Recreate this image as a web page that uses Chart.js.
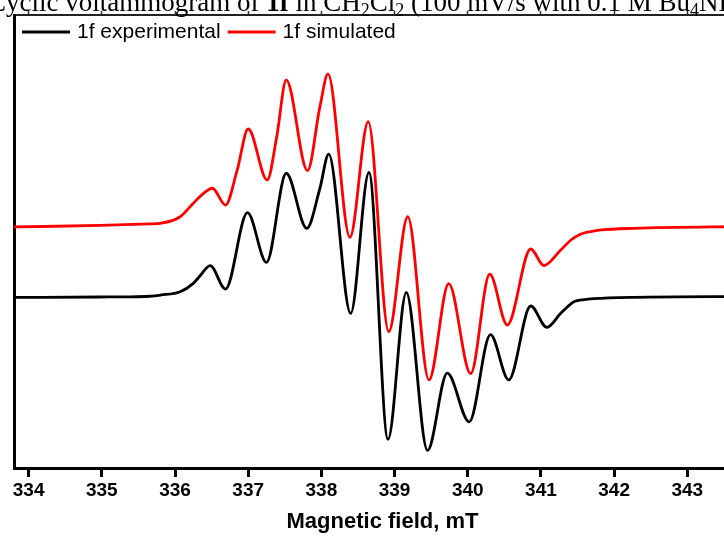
<!DOCTYPE html>
<html><head><meta charset="utf-8">
<script src="https://cdn.jsdelivr.net/npm/chart.js@4.4.0/dist/chart.umd.min.js"></script>
<style>html,body{margin:0;padding:0;background:#fff;overflow:hidden;width:724px;height:538px;}canvas{display:block;}</style>
</head><body>
<canvas id="c" width="751" height="538"></canvas>
<script>
// ---- data ----
const fieldTicks = [334, 335, 336, 337, 338, 339, 340, 341, 342, 343];
const fieldRange = [333.80, 343.87];
const signalRange = [-1.14, 1.88];
const seriesNames = ['1f experimental', '1f simulated'];
const seriesColors = ['#000000', '#ff0000'];

const expField  = [333.80, 334.98, 335.30, 335.66, 335.80, 336.07, 336.25, 336.34, 336.48, 336.69, 336.99, 337.25, 337.52, 337.80, 337.98, 338.10, 338.40, 338.65, 338.91, 339.16, 339.45, 339.72, 340.02, 340.31, 340.56, 340.86, 341.08, 341.27, 341.36, 341.45, 341.59, 341.72, 342.27, 343.87];
const expSignal = [-0.003, 0.000, 0.001, 0.005, 0.013, 0.035, 0.091, 0.140, 0.209, 0.053, 0.562, 0.231, 0.825, 0.458, 0.725, 0.953, -0.109, 0.830, -0.949, 0.030, -1.023, -0.507, -0.833, -0.251, -0.553, -0.060, -0.202, -0.109, -0.067, -0.031, -0.017, -0.011, -0.002, 0.004];

const simField  = [333.80, 334.98, 335.66, 335.80, 336.07, 336.25, 336.39, 336.51, 336.69, 336.85, 337.00, 337.26, 337.39, 337.52, 337.81, 337.98, 338.09, 338.39, 338.64, 338.92, 339.18, 339.47, 339.74, 340.04, 340.30, 340.54, 340.86, 341.04, 341.27, 341.41, 341.54, 341.68, 341.82, 342.27, 343.87];
const simSignal = [0.467, 0.477, 0.487, 0.491, 0.535, 0.625, 0.691, 0.725, 0.613, 0.847, 1.120, 0.780, 1.069, 1.447, 0.842, 1.269, 1.487, 0.398, 1.169, -0.231, 0.535, -0.553, 0.089, -0.511, 0.152, -0.187, 0.320, 0.210, 0.313, 0.380, 0.418, 0.436, 0.447, 0.458, 0.470];

const titleParts = [
  ['Cyclic voltammogram of ', 'n'], ['1f', 'b'], [' in CH', 'n'], ['2', 's'], ['Cl', 'n'], ['2', 's'],
  [' (100 mV/s with 0.1 M Bu', 'n'], ['4', 's'], ['NPF', 'n'], ['6', 's'], [')', 'n']
];

const sans = "'Liberation Sans', Arial, sans-serif";
const serif = "'Liberation Serif', 'Times New Roman', serif";

const toPoints = (xs, ys) => xs.map((x, i) => ({x: x, y: ys[i]}));

const titlePlugin = {
  id: 'cutTitle',
  afterDraw(chart) {
    const ctx = chart.ctx;
    ctx.save();
    ctx.fillStyle = '#000';
    ctx.textBaseline = 'alphabetic';
    let x = -12;
    const base = 11;
    for (const [t, s] of titleParts) {
      let dy = 0;
      if (s === 'b') ctx.font = 'bold 27px ' + serif;
      else if (s === 's') { ctx.font = '18px ' + serif; dy = 5; }
      else ctx.font = '27px ' + serif;
      ctx.fillText(t, x, base + dy);
      x += ctx.measureText(t).width;
    }
    ctx.restore();
  }
};

const legendPlugin = {
  id: 'innerLegend',
  afterDraw(chart) {
    const ctx = chart.ctx;
    const area = chart.chartArea;
    ctx.save();
    ctx.font = '21px ' + sans;
    ctx.textBaseline = 'middle';
    let x = area.left + 8;
    const y = area.top + 17;
    chart.data.datasets.forEach((ds) => {
      ctx.strokeStyle = ds.borderColor;
      ctx.lineWidth = ds.borderWidth;
      ctx.beginPath();
      ctx.moveTo(x, y);
      ctx.lineTo(x + 48, y);
      ctx.stroke();
      x += 48 + 7;
      ctx.fillStyle = '#000';
      ctx.fillText(ds.label, x, y);
      x += ctx.measureText(ds.label).width + 7;
    });
    ctx.restore();
  }
};

const setTicks = (s) => { s.ticks = fieldTicks.map(v => ({value: v})); };

new Chart(document.getElementById('c'), {
  type: 'line',
  data: {
    datasets: [
      {label: seriesNames[0], data: toPoints(expField, expSignal), borderColor: seriesColors[0], borderWidth: 2.8,
       pointRadius: 0, cubicInterpolationMode: 'monotone', fill: false, xAxisID: 'x', yAxisID: 'y'},
      {label: seriesNames[1], data: toPoints(simField, simSignal), borderColor: seriesColors[1], borderWidth: 2.8,
       pointRadius: 0, cubicInterpolationMode: 'monotone', fill: false, xAxisID: 'x', yAxisID: 'y'}
    ]
  },
  options: {
    responsive: false,
    animation: false,
    events: [],
    layout: {padding: {top: 11, right: 0, bottom: 0, left: 0}},
    plugins: {legend: {display: false}, tooltip: {enabled: false}, title: {display: false}},
    scales: {
      x: {
        type: 'linear', position: 'bottom', min: fieldRange[0], max: fieldRange[1],
        afterBuildTicks: setTicks,
        afterFit: (s) => { s.height = 70; },
        ticks: {color: '#000', font: {family: sans, size: 19, weight: 'bold'}, padding: 2, maxRotation: 0, autoSkip: false,
                callback: (v) => String(v)},
        grid: {drawOnChartArea: false, drawTicks: true, tickLength: 9, tickWidth: 3, tickColor: '#000'},
        border: {display: true, color: '#000', width: 3},
        title: {display: true, text: 'Magnetic field, mT', color: '#000', font: {family: sans, size: 22, weight: 'bold'},
                padding: {top: 0, bottom: 3}}
      },
      x2: {
        type: 'linear', position: 'top', min: fieldRange[0], max: fieldRange[1],
        afterBuildTicks: setTicks,
        afterFit: (s) => { s.height = 4; },
        ticks: {display: false},
        grid: {drawOnChartArea: false, drawTicks: true, tickLength: 4, tickWidth: 1.5, tickColor: '#333'},
        border: {display: true, color: '#222', width: 2}
      },
      y: {
        type: 'linear', position: 'left', min: signalRange[0], max: signalRange[1],
        afterFit: (s) => { s.width = 14; },
        ticks: {display: false},
        grid: {drawOnChartArea: false, drawTicks: false},
        border: {display: true, color: '#000', width: 3}
      }
    }
  },
  plugins: [titlePlugin, legendPlugin]
});
</script>
</body></html>
